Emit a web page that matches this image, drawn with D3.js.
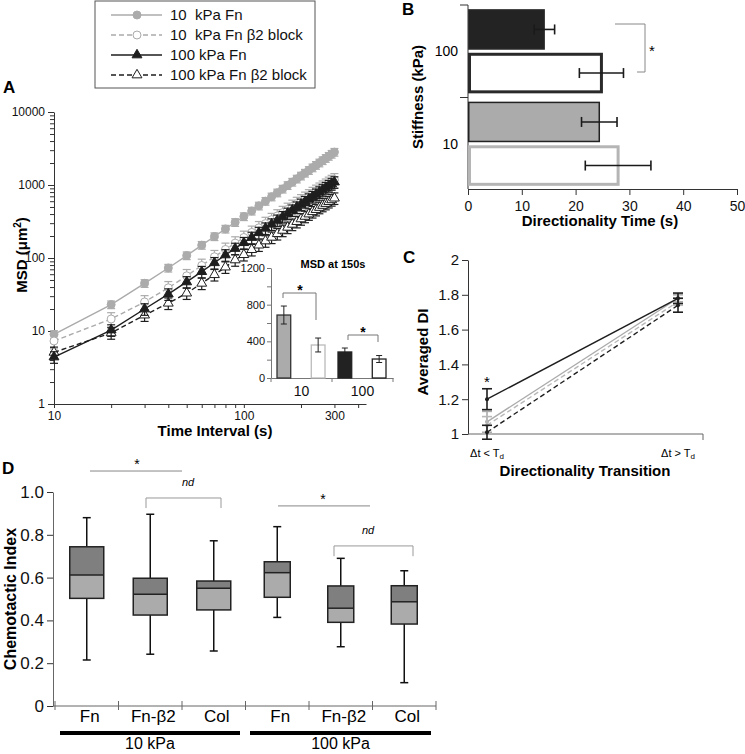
<!DOCTYPE html>
<html><head><meta charset="utf-8">
<script src="https://cdn.jsdelivr.net/npm/d3@7"></script>
<style>
body{margin:0;background:#fff}
svg{display:block}
text{font-family:'Liberation Sans',Arial,Helvetica,sans-serif}
</style>
</head><body>
<svg id="c" width="745" height="754"></svg>
<script>
// ---------------- DATA ----------------
// Panel A: MSD vs time interval
const timeIntervals = [10,20,30,40,50,60,70,80,90,100,110,120,130,140,150,160,170,180,190,200,210,220,230,240,250,260,270,280,290,300];
const msd10Fn  = [9,23,45,73,108,150,197,250,308,370,441,518,601,690,783,883,988,1098,1213,1334,1460,1591,1727,1869,2015,2167,2324,2486,2653,2824];
const msd10B2  = [7.3,14.6,25,39,57,79,104,131,160,191,224,259,296,335,376,418,462,508,556,605,655,707,761,816,872,930,989,1050,1112,1175];
const msd100Fn = [4.4,10.3,20,32,47,65,86,110,135,162,191,223,256,291,328,367,408,451,496,542,590,640,691,744,799,855,913,973,1034,1097];
const msd100B2 = [5.1,9.4,16.5,24,33,45,59,75,94,111,130,150,171,192,215,239,263,289,315,343,371,400,430,460,492,524,557,591,626,660];
const msdErrFraction = [0.12,0.22,0.18,0.18];
const legendNumbers = ["10","10","100","100"];
const legendTexts = ["kPa Fn","kPa Fn \u03b22 block","kPa Fn","kPa Fn \u03b22 block"];
const msdXTicks = [10,20,30,40,50,60,70,80,90,100,200,300,400];
const msdXLabels = [10,100,300];
const msdYTicks = [1,2,3,4,5,6,7,8,9,10,20,30,40,50,60,70,80,90,100,200,300,400,500,600,700,800,900,1000,2000,3000,4000,5000,6000,7000,8000,9000,10000];
const msdYLabels = [1,10,100,1000,10000];
// Inset: MSD at 150 s
const insetStiffness = ["10","100"];
const insetTreat = ["Fn","B2"];
const insetMeans = [687,360,284,207];
const insetErr = [98,76,43,38];
const insetTicks = [0,200,400,600,800,1000,1200];
const insetLabelTicks = [0,400,800,1200];
// Panel B: directionality time
const stiffnessB = ["100","10"];
const treatB = ["Fn","B2"];
const dirTime = [14.2,24.8,24.4,27.9];
const dirTimeErr = [1.9,4.1,3.3,6.1];
const dirTicks = [0,10,20,30,40,50];
// Panel C: averaged DI
const transitions = ["lt","gt"];
const di10Fn = [1.07,1.78], di10FnErr = [0.06,0.02];
const di10B2 = [1.05,1.76], di10B2Err = [0.05,0.02];
const di100Fn = [1.20,1.78], di100FnErr = [0.06,0.03];
const di100B2 = [1.01,1.74], di100B2Err = [0.04,0.04];
const diTicks = [1,1.2,1.4,1.6,1.8,2];
// Panel D: chemotactic index boxes
const boxCats = ["Fn","Fn-\u03b22","Col","Fn","Fn-\u03b22","Col"];
const boxGroups = ["10 kPa","100 kPa"];
const boxWhiskerLow  = [0.215,0.242,0.257,0.414,0.277,0.109];
const boxQ1          = [0.503,0.425,0.449,0.508,0.391,0.383];
const boxMedian      = [0.612,0.522,0.550,0.623,0.457,0.487];
const boxQ3          = [0.744,0.597,0.584,0.674,0.561,0.562];
const boxWhiskerHigh = [0.880,0.896,0.772,0.838,0.690,0.632];
const ciTicks = [0,0.2,0.4,0.6,0.8,1.0];

// ---------------- DRAWING ----------------
const FONT = "'Liberation Sans',Arial,Helvetica,sans-serif";
const GRAY = "#ababab", DARK = "#1e1e1e", AX = "#333";
const svg = d3.select("#c");

function styleAxis(g, fs, color) {
  color = color || AX;
  g.select(".domain").attr("stroke", color).attr("stroke-width", 1);
  g.selectAll(".tick line").attr("stroke", color);
  g.selectAll(".tick text").attr("fill", "#111").attr("font-size", fs).attr("font-family", FONT);
}
function panelLabel(t, x, y) {
  svg.append("text").attr("x", x).attr("y", y).attr("font-weight", "bold").attr("font-size", 17).text(t);
}
function errBar(g, x, y1, y2, w, color, sw) {
  g.append("line").attr("x1", x).attr("x2", x).attr("y1", y1).attr("y2", y2).attr("stroke", color).attr("stroke-width", sw);
  g.append("line").attr("x1", x - w).attr("x2", x + w).attr("y1", y1).attr("y2", y1).attr("stroke", color).attr("stroke-width", sw);
  g.append("line").attr("x1", x - w).attr("x2", x + w).attr("y1", y2).attr("y2", y2).attr("stroke", color).attr("stroke-width", sw);
}
function hErrBar(g, y, x1, x2, h, color, sw) {
  g.append("line").attr("y1", y).attr("y2", y).attr("x1", x1).attr("x2", x2).attr("stroke", color).attr("stroke-width", sw);
  g.append("line").attr("y1", y - h).attr("y2", y + h).attr("x1", x1).attr("x2", x1).attr("stroke", color).attr("stroke-width", sw);
  g.append("line").attr("y1", y - h).attr("y2", y + h).attr("x1", x2).attr("x2", x2).attr("stroke", color).attr("stroke-width", sw);
}

// ===== Panel A =====
panelLabel("A", 3, 93);
const xA = d3.scaleLog().domain([10, 440]).range([54, 366]);
const yA = d3.scaleLog().domain([1, 10000]).range([404, 112]);
const gA = svg.append("g");
const axAx = gA.append("g").attr("transform", "translate(0,404)")
  .call(d3.axisBottom(xA).tickValues(msdXTicks).tickSize(4).tickSizeOuter(0)
    .tickFormat(d => msdXLabels.includes(d) ? String(d) : ""));
styleAxis(axAx, 12);
const ayAx = gA.append("g").attr("transform", "translate(54,0)")
  .call(d3.axisLeft(yA).tickValues(msdYTicks).tickSize(4).tickPadding(5).tickSizeOuter(0)
    .tickFormat(d => msdYLabels.includes(d) ? String(d) : ""));
styleAxis(ayAx, 12);
ayAx.selectAll(".tick line").filter(d => msdYLabels.includes(d)).attr("x2", -6);

gA.append("text").attr("transform", "translate(27,255) rotate(-90)").attr("text-anchor", "middle")
  .attr("font-weight", "bold").attr("font-size", 15)
  .call(t => { t.append("tspan").text("MSD (\u03bcm"); t.append("tspan").attr("font-size", 10).attr("dy", -6).text("2"); t.append("tspan").attr("dy", 6).text(")"); });
gA.append("text").attr("x", 215).attr("y", 436).attr("text-anchor", "middle")
  .attr("font-weight", "bold").attr("font-size", 15).text("Time Interval (s)");

const seriesA = [
  {vals: msd10Fn,  err: msdErrFraction[0], color: GRAY, dash: null,  mk: "circle", fill: GRAY},
  {vals: msd10B2,  err: msdErrFraction[1], color: GRAY, dash: "5,3", mk: "circle", fill: "#fff"},
  {vals: msd100B2, err: msdErrFraction[3], color: DARK, dash: "5,3", mk: "tri",    fill: "#fff"},
  {vals: msd100Fn, err: msdErrFraction[2], color: DARK, dash: null,  mk: "tri",    fill: DARK}
];
const lineA = d3.line().x(d => xA(d[0])).y(d => yA(d[1]));
const triSym = d3.symbol(d3.symbolTriangle).size(42);
seriesA.forEach(s => {
  const pts = timeIntervals.map((t, i) => [t, s.vals[i]]);
  const g = gA.append("g");
  g.append("path").datum(pts).attr("d", lineA).attr("fill", "none").attr("stroke", s.color)
    .attr("stroke-width", 1.4).attr("stroke-dasharray", s.dash);
  pts.forEach(p => errBar(g, xA(p[0]), yA(p[1] * (1 + s.err)), yA(p[1] * (1 - s.err)), 4, s.color, 1.2));
  pts.forEach(p => {
    if (s.mk === "circle") {
      g.append("circle").attr("cx", xA(p[0])).attr("cy", yA(p[1])).attr("r", 4)
        .attr("fill", s.fill).attr("stroke", s.color).attr("stroke-width", 1);
    } else {
      g.append("path").attr("d", triSym).attr("transform", `translate(${xA(p[0])},${yA(p[1])})`)
        .attr("fill", s.fill).attr("stroke", s.color).attr("stroke-width", 1);
    }
  });
});

// Legend
const gL = svg.append("g");
gL.append("rect").attr("x", 95).attr("y", 1).attr("width", 220).attr("height", 87)
  .attr("fill", "#fff").attr("stroke", "#555").attr("stroke-width", 1);
const legendOrder = [0, 1, 3, 2];
legendOrder.forEach((si, row) => {
  const s = seriesA[si];
  const y = 15 + row * 20;
  gL.append("line").attr("x1", 111).attr("x2", 162).attr("y1", y).attr("y2", y)
    .attr("stroke", s.color).attr("stroke-width", 1.4).attr("stroke-dasharray", s.dash);
  if (s.mk === "circle") {
    gL.append("circle").attr("cx", 137).attr("cy", y).attr("r", 4).attr("fill", s.fill).attr("stroke", s.color);
  } else {
    gL.append("path").attr("d", triSym).attr("transform", `translate(137,${y})`).attr("fill", s.fill).attr("stroke", s.color);
  }
  const t = gL.append("text").attr("x", 170).attr("y", y + 5).attr("font-size", 15).attr("fill", "#111");
  t.append("tspan").text(legendNumbers[row]);
  t.append("tspan").attr("x", legendNumbers[row].length === 2 ? 195 : 199).text(legendTexts[row]);
});

// Inset
const gI = svg.append("g");
const xI = d3.scaleBand().domain(insetStiffness).range([271, 393]);
const xIin = d3.scaleBand().domain(insetTreat).range([6, 54]).paddingInner(0.6);
const yI = d3.scaleLinear().domain([0, 1200]).range([378, 268]);
const ayI = gI.append("g").attr("transform", "translate(271,0)")
  .call(d3.axisLeft(yI).tickValues(insetTicks).tickSize(4).tickPadding(2).tickSizeOuter(0)
    .tickFormat(d => insetLabelTicks.includes(d) ? String(d) : ""));
styleAxis(ayI, 11, "#777");
const axI = gI.append("g").attr("transform", "translate(0,378)")
  .call(d3.axisBottom(xI).tickSize(0).tickPadding(8).tickSizeOuter(0));
styleAxis(axI, 14, "#777");
[271, xI("100"), 393].forEach(x => gI.append("line").attr("x1", x).attr("x2", x).attr("y1", 378).attr("y2", 382).attr("stroke", "#777"));
const insetFill = ["#ababab", "#fff", "#222", "#fff"];
const insetStroke = ["#333", "#bbb", "#222", "#222"];
insetStiffness.forEach((st, i) => insetTreat.forEach((tr, j) => {
  const k = i * 2 + j;
  const x = xI(st) + xIin(tr);
  gI.append("rect").attr("x", x).attr("y", yI(insetMeans[k])).attr("width", xIin.bandwidth())
    .attr("height", yI(0) - yI(insetMeans[k])).attr("fill", insetFill[k]).attr("stroke", insetStroke[k]).attr("stroke-width", 1.3);
  errBar(gI, x + xIin.bandwidth() / 2, yI(insetMeans[k] + insetErr[k]), yI(insetMeans[k] - insetErr[k]), 3, "#222", 1);
}));
gI.append("text").attr("x", 333).attr("y", 268).attr("text-anchor", "middle").attr("font-weight", "bold")
  .attr("font-size", 11).text("MSD at 150s");
gI.append("path").attr("d", "M283,298V293H316V320").attr("fill", "none").attr("stroke", "#777");
gI.append("text").attr("x", 300).attr("y", 295).attr("text-anchor", "middle").attr("font-size", 14).attr("font-weight", "bold").text("*");
gI.append("path").attr("d", "M348,340V335H378V342").attr("fill", "none").attr("stroke", "#777");
gI.append("text").attr("x", 363).attr("y", 337).attr("text-anchor", "middle").attr("font-size", 14).attr("font-weight", "bold").text("*");

// ===== Panel B =====
panelLabel("B", 402, 15);
const gB = svg.append("g");
const xB = d3.scaleLinear().domain([0, 50]).range([468, 737]);
const yB = d3.scaleBand().domain(stiffnessB).range([5, 190]).paddingInner(0.09).paddingOuter(0.045);
const yBin = d3.scaleBand().domain(treatB).range([0, yB.bandwidth()]).paddingInner(0.07);
const axB = gB.append("g").attr("transform", "translate(0,189)")
  .call(d3.axisBottom(xB).tickValues(dirTicks).tickSize(6).tickSizeOuter(0));
styleAxis(axB, 14);
axB.selectAll(".tick text").attr("dy", "0.9em");
gB.append("line").attr("x1", 468).attr("x2", 468).attr("y1", 5).attr("y2", 189).attr("stroke", AX);
const bBound = [5, yB("10") - yB.step() * yB.paddingInner() / 2];
bBound.forEach(y => gB.append("line").attr("x1", 460).attr("x2", 468).attr("y1", y).attr("y2", y).attr("stroke", AX));
stiffnessB.forEach(st => gB.append("text").attr("x", 458).attr("y", yB(st) + yB.bandwidth() / 2 + 5)
  .attr("text-anchor", "end").attr("font-size", 14).text(st));
const bFill = ["#232323", "#fff", "#ababab", "#fff"];
const bStroke = ["#333", "#2a2a2a", "#222", "#b5b5b5"];
const bSW = [1, 3, 1.5, 3];
stiffnessB.forEach((st, i) => treatB.forEach((tr, j) => {
  const k = i * 2 + j;
  const y = yB(st) + yBin(tr);
  const off = bSW[k] / 2;
  gB.append("rect").attr("x", xB(0) + off).attr("y", y + off).attr("width", xB(dirTime[k]) - xB(0) - off)
    .attr("height", yBin.bandwidth() - 2 * off).attr("fill", bFill[k]).attr("stroke", bStroke[k]).attr("stroke-width", bSW[k]);
  hErrBar(gB, y + yBin.bandwidth() / 2, xB(dirTime[k] - dirTimeErr[k]), xB(dirTime[k] + dirTimeErr[k]), 5, "#1a1a1a", 1.6);
}));
gB.append("path").attr("d", "M615,24H645V72H637").attr("fill", "none").attr("stroke", "#888");
gB.append("text").attr("x", 652).attr("y", 56).attr("text-anchor", "middle").attr("font-size", 15).text("*");
gB.append("text").attr("x", 600).attr("y", 226).attr("text-anchor", "middle").attr("font-weight", "bold").attr("font-size", 15).text("Directionality Time (s)");
gB.append("text").attr("transform", "translate(423,97) rotate(-90)").attr("text-anchor", "middle").attr("font-weight", "bold").attr("font-size", 15).text("Stiffness (kPa)");

// ===== Panel C =====
panelLabel("C", 403, 263);
const gC = svg.append("g");
const xC = d3.scalePoint().domain(transitions).range([487, 678]);
const yC = d3.scaleLinear().domain([1, 2]).range([434, 260]);
const ayC = gC.append("g").attr("transform", "translate(468,0)")
  .call(d3.axisLeft(yC).tickValues(diTicks).tickSize(6).tickSizeOuter(0)
    .tickFormat(d => (d === 1 || d === 2) ? String(d) : d.toFixed(1)));
styleAxis(ayC, 15);
gC.append("line").attr("x1", 468).attr("x2", 703).attr("y1", 434).attr("y2", 434).attr("stroke", "#666");
gC.append("line").attr("x1", 703).attr("x2", 703).attr("y1", 434).attr("y2", 440).attr("stroke", "#666");
const seriesC = [
  {v: di10Fn, e: di10FnErr, c: GRAY, d: null},
  {v: di10B2, e: di10B2Err, c: "#b8b8b8", d: "5,3"},
  {v: di100B2, e: di100B2Err, c: DARK, d: "5,3"},
  {v: di100Fn, e: di100FnErr, c: DARK, d: null}
];
seriesC.forEach(s => {
  const pts = transitions.map((t, i) => [xC(t), yC(s.v[i])]);
  gC.append("path").attr("d", d3.line()(pts)).attr("fill", "none").attr("stroke", s.c).attr("stroke-width", 1.4).attr("stroke-dasharray", s.d);
  transitions.forEach((t, i) => {
    errBar(gC, xC(t), yC(s.v[i] + s.e[i]), yC(s.v[i] - s.e[i]), 5, s.c, 1.6);
    gC.append("circle").attr("cx", xC(t)).attr("cy", yC(s.v[i])).attr("r", 2).attr("fill", s.c);
  });
});
gC.append("text").attr("x", xC("lt")).attr("y", yC(1.27)).attr("text-anchor", "middle").attr("font-size", 15).text("*");
const tLbl = [["\u0394t < T", "d"], ["\u0394t > T", "d"]];
transitions.forEach((t, i) => {
  const tx = gC.append("text").attr("x", xC(t)).attr("y", 457).attr("text-anchor", "middle").attr("font-size", 11);
  tx.append("tspan").text(tLbl[i][0]);
  tx.append("tspan").attr("font-size", 8).attr("dy", 2).text(tLbl[i][1]);
});
gC.append("text").attr("x", 585).attr("y", 476).attr("text-anchor", "middle").attr("font-weight", "bold").attr("font-size", 15).text("Directionality Transition");
gC.append("text").attr("transform", "translate(428,352) rotate(-90)").attr("text-anchor", "middle").attr("font-weight", "bold").attr("font-size", 15).text("Averaged DI");

// ===== Panel D =====
panelLabel("D", 2, 474);
const gD = svg.append("g");
const xD = d3.scaleBand().domain(d3.range(boxCats.length)).range([55, 436]);
const yD = d3.scaleLinear().domain([0, 1]).range([706, 492]);
const ayD = gD.append("g").attr("transform", "translate(53,0)")
  .call(d3.axisLeft(yD).tickValues(ciTicks).tickSize(6).tickSizeOuter(0)
    .tickFormat(d => d === 0 ? "0" : d.toFixed(1)));
styleAxis(ayD, 17);
ayD.select(".domain").attr("stroke", "#666");
gD.append("line").attr("x1", 53).attr("x2", 436).attr("y1", 706).attr("y2", 706).attr("stroke", "#666");
d3.range(boxCats.length + 1).forEach(i => {
  const x = 55 + i * xD.step();
  gD.append("line").attr("x1", x).attr("x2", x).attr("y1", 701).attr("y2", 710).attr("stroke", "#666");
});
boxCats.forEach((c, i) => {
  const cx = xD(i) + xD.bandwidth() / 2;
  const w = i < 3 ? 34 : 26;
  const g = gD.append("g");
  g.append("line").attr("x1", cx).attr("x2", cx).attr("y1", yD(boxWhiskerHigh[i])).attr("y2", yD(boxQ3[i])).attr("stroke", "#111").attr("stroke-width", 1.5);
  g.append("line").attr("x1", cx).attr("x2", cx).attr("y1", yD(boxQ1[i])).attr("y2", yD(boxWhiskerLow[i])).attr("stroke", "#111").attr("stroke-width", 1.5);
  [boxWhiskerHigh[i], boxWhiskerLow[i]].forEach(v => g.append("line").attr("x1", cx - 4).attr("x2", cx + 4).attr("y1", yD(v)).attr("y2", yD(v)).attr("stroke", "#111").attr("stroke-width", 1.5));
  g.append("rect").attr("x", cx - w / 2).attr("y", yD(boxQ3[i])).attr("width", w).attr("height", yD(boxMedian[i]) - yD(boxQ3[i])).attr("fill", "#7f7f7f");
  g.append("rect").attr("x", cx - w / 2).attr("y", yD(boxMedian[i])).attr("width", w).attr("height", yD(boxQ1[i]) - yD(boxMedian[i])).attr("fill", "#ababab");
  g.append("rect").attr("x", cx - w / 2).attr("y", yD(boxQ3[i])).attr("width", w).attr("height", yD(boxQ1[i]) - yD(boxQ3[i])).attr("fill", "none").attr("stroke", "#222").attr("stroke-width", 1.5);
  g.append("line").attr("x1", cx - w / 2).attr("x2", cx + w / 2).attr("y1", yD(boxMedian[i])).attr("y2", yD(boxMedian[i])).attr("stroke", "#222").attr("stroke-width", 1.5);
  gD.append("text").attr("x", cx + 3).attr("y", 722).attr("text-anchor", "middle").attr("font-size", 17).text(c);
});
boxGroups.forEach((gname, gi) => {
  const x1 = gi === 0 ? 60 : 250, x2 = gi === 0 ? 240 : 431;
  gD.append("line").attr("x1", x1).attr("x2", x2).attr("y1", 733).attr("y2", 733).attr("stroke", "#000").attr("stroke-width", 4);
  gD.append("text").attr("x", (x1 + x2) / 2).attr("y", 749).attr("text-anchor", "middle").attr("font-size", 16).text(gname);
});
// significance
gD.append("line").attr("x1", 90).attr("x2", 182).attr("y1", yD(1.098)).attr("y2", yD(1.098)).attr("stroke", "#888");
gD.append("text").attr("x", 137).attr("y", yD(1.098) - 2).attr("text-anchor", "middle").attr("font-size", 14).text("*");
gD.append("path").attr("d", `M146,${yD(0.925)}V${yD(0.972)}H221V${yD(0.925)}`).attr("fill", "none").attr("stroke", "#999");
gD.append("text").attr("x", 188).attr("y", yD(1.03)).attr("text-anchor", "middle").attr("font-size", 11).attr("font-style", "italic").text("nd");
gD.append("line").attr("x1", 278).attr("x2", 370).attr("y1", yD(0.935)).attr("y2", yD(0.935)).attr("stroke", "#888");
gD.append("text").attr("x", 323).attr("y", yD(0.935) - 2).attr("text-anchor", "middle").attr("font-size", 14).text("*");
gD.append("path").attr("d", `M334,${yD(0.70)}V${yD(0.748)}H413V${yD(0.70)}`).attr("fill", "none").attr("stroke", "#999");
gD.append("text").attr("x", 368).attr("y", yD(0.805)).attr("text-anchor", "middle").attr("font-size", 11).attr("font-style", "italic").text("nd");
gD.append("text").attr("transform", "translate(16,599) rotate(-90)").attr("text-anchor", "middle").attr("font-weight", "bold").attr("font-size", 16).text("Chemotactic Index");
</script>
</body></html>
